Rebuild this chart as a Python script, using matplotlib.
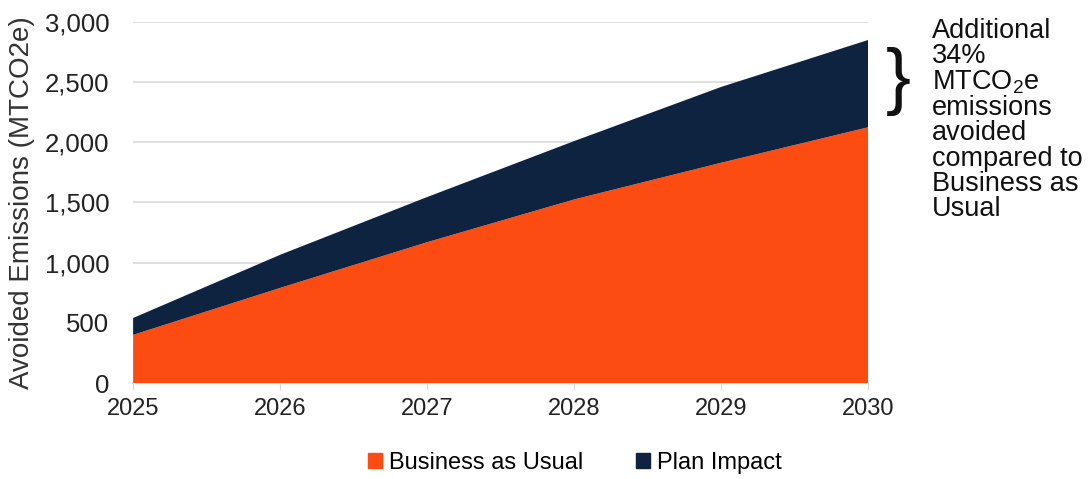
import matplotlib
matplotlib.use("Agg")
import matplotlib.pyplot as plt
from matplotlib.patches import Patch

plt.rcParams['font.family'] = ['Liberation Sans', 'DejaVu Sans']
plt.rcParams['mathtext.fontset'] = 'custom'
plt.rcParams['mathtext.rm'] = 'Liberation Sans'

# avoided emissions, MTCO2e
years = [2025, 2026, 2027, 2028, 2029, 2030]
business_as_usual = [400, 790, 1170, 1525, 1830, 2125]
plan_impact = [140, 275, 375, 485, 630, 725]

orange = '#FC4C12'
navy = '#0E2340'

fig = plt.figure(figsize=(10.91, 4.79), dpi=100)
ax = fig.add_axes([0.122, 0.2004, 0.674, 0.754])

ax.stackplot(years, business_as_usual, plan_impact,
             colors=[orange, navy], linewidth=0)

ax.set_xlim(2025, 2030)
ax.set_ylim(0, 3000)
ax.set_yticks(range(0, 3001, 500))
ax.set_yticklabels([f'{v:,}' for v in range(0, 3001, 500)])
ax.set_xticks(years)
ax.yaxis.grid(True, color='#d9d9d9', linewidth=1.2)
ax.set_axisbelow(True)

for side in ['top', 'right', 'left']:
    ax.spines[side].set_visible(False)
ax.spines['bottom'].set_color('#d9d9d9')
ax.spines['bottom'].set_linewidth(1.2)
ax.spines['bottom'].set_zorder(0)

ax.tick_params(axis='y', length=0, labelsize=18.5, pad=17, labelcolor='#222222')
ax.tick_params(axis='x', length=5, color='#d9d9d9', labelsize=17, pad=6,
               labelcolor='#222222')
ax.set_ylabel('Avoided Emissions (MTCO2e)', fontsize=20, color='#333333',
              labelpad=7)

# brace and note to the right of the 2030 edge
fig.text(0.823, 0.83, '}', fontsize=54, ha='center', va='center',
         color='#111111')
fig.text(0.854, 0.962,
         'Additional\n34%\nMTCO$_\\mathregular{2}$e\nemissions\navoided\n'
         'compared to\nBusiness as\nUsual',
         fontsize=19.5, ha='left', va='top', linespacing=0.96, color='#111111')

handles = [Patch(color=orange, label='Business as Usual'),
           Patch(color=navy, label='Plan Impact')]
fig.legend(handles=handles, loc='center', bbox_to_anchor=(0.527, 0.033),
           ncol=2, frameon=False, fontsize=17, handlelength=0.6,
           handleheight=0.6, handletextpad=0.3, columnspacing=2.2)

fig.savefig('out.png', dpi=100)
